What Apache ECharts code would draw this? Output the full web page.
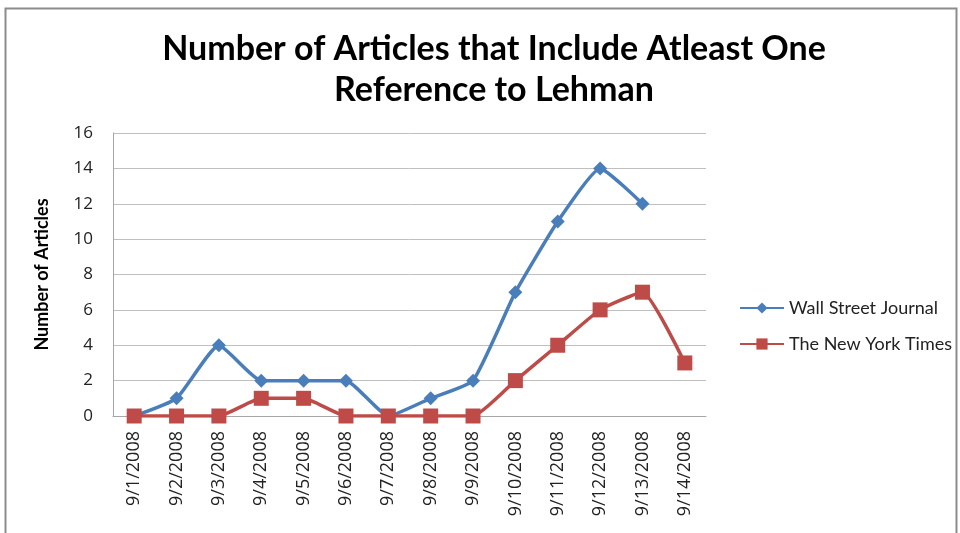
<!DOCTYPE html>
<html>
<head>
<meta charset="utf-8">
<script src="https://cdn.jsdelivr.net/npm/echarts@6/dist/echarts.min.js"></script>
<style>
  html, body { margin: 0; padding: 0; background: #fff; }
  #chart { width: 960px; height: 533px; }
</style>
</head>
<body>
<div id="chart"></div>
<script>
// dates on the x axis
const dates = ['9/1/2008', '9/2/2008', '9/3/2008', '9/4/2008', '9/5/2008', '9/6/2008', '9/7/2008',
  '9/8/2008', '9/9/2008', '9/10/2008', '9/11/2008', '9/12/2008', '9/13/2008', '9/14/2008'];
// article counts per paper
const wsj = [0, 1, 4, 2, 2, 2, 0, 1, 2, 7, 11, 14, 12, null];
const nyt = [0, 0, 0, 1, 1, 0, 0, 0, 0, 2, 4, 6, 7, 3];

const chart = echarts.init(document.getElementById('chart'));

chart.setOption({
  backgroundColor: '#fff',
  animation: false,
  title: {
    text: 'Number of Articles that Include Atleast One\nReference to Lehman',
    left: 489,
    top: 24,
    textAlign: 'center',
    textStyle: {
      fontFamily: 'Lato',
      fontWeight: 'bold',
      fontSize: 34,
      lineHeight: 41,
      color: '#000'
    }
  },
  graphic: [{
    type: 'rect',
    shape: { x: 5.5, y: 8.5, width: 951, height: 540 },
    style: { fill: 'none', stroke: '#8c8c8c', lineWidth: 2 },
    silent: true
  }],
  legend: {
    orient: 'vertical',
    left: 734,
    top: 294,
    itemWidth: 44,
    itemHeight: 14,
    itemGap: 18,
    textStyle: { fontFamily: 'Lato', fontSize: 18, color: '#222' },
    data: ['Wall Street Journal', 'The New York Times']
  },
  grid: { left: 113, right: 254, top: 133, bottom: 117 },
  xAxis: {
    type: 'category',
    data: dates,
    boundaryGap: true,
    axisLine: { lineStyle: { color: '#a6a6a6' } },
    axisTick: { show: false },
    axisLabel: {
      rotate: 90,
      interval: 0,
      margin: 15,
      fontFamily: 'Open Sans',
      fontSize: 18,
      color: '#222'
    }
  },
  yAxis: {
    type: 'value',
    min: 0,
    max: 16,
    interval: 2,
    name: 'Number of Articles',
    nameLocation: 'middle',
    nameGap: 62,
    nameTextStyle: { fontFamily: 'Lato', fontWeight: 'bold', fontSize: 18, color: '#000' },
    axisLine: { show: true, lineStyle: { color: '#a6a6a6' } },
    axisTick: { show: false },
    axisLabel: { fontFamily: 'Open Sans', fontSize: 17, color: '#222', margin: 20 },
    splitLine: { lineStyle: { color: '#bfbfbf', width: 1 } }
  },
  series: [{
    name: 'Wall Street Journal',
    type: 'line',
    data: wsj,
    smooth: 0.15,
    symbol: 'diamond',
    symbolSize: 14,
    color: '#4a7ebb',
    lineStyle: { width: 3.5 }
  }, {
    name: 'The New York Times',
    type: 'line',
    data: nyt,
    smooth: 0.15,
    symbol: 'rect',
    symbolSize: 15,
    color: '#be4b48',
    lineStyle: { width: 3.5 }
  }]
});
</script>
</body>
</html>
